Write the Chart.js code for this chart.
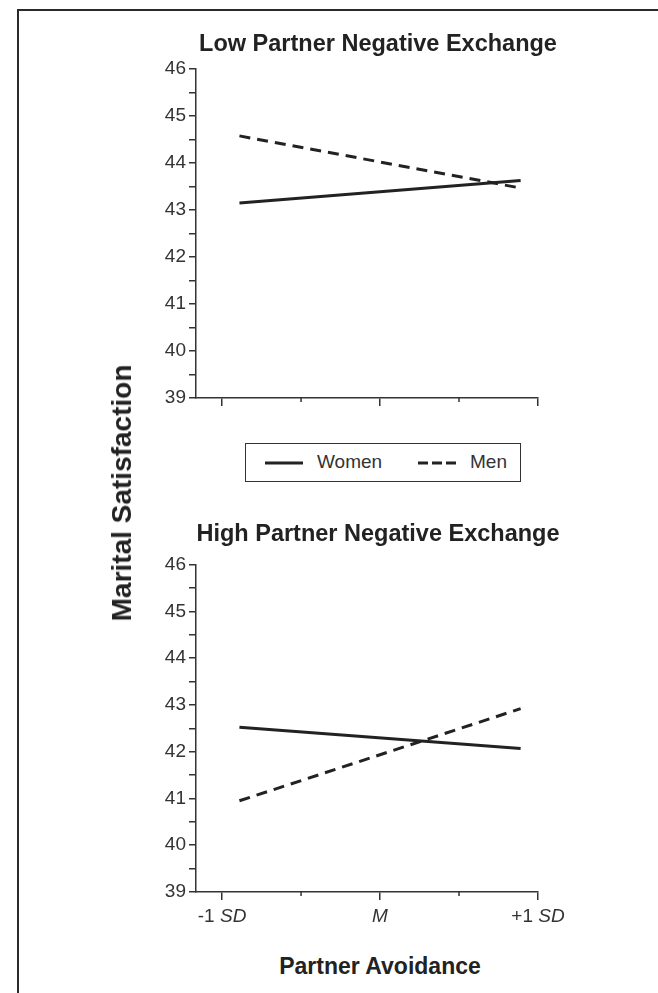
<!DOCTYPE html>
<html>
<head>
<meta charset="utf-8">
<script src="https://cdn.jsdelivr.net/npm/chart.js@4/dist/chart.umd.min.js"></script>
<style>
  body { margin: 0; background: #fff; font-family: 'Liberation Sans', Arial, sans-serif; color: #222; }
  #page { position: relative; width: 658px; height: 993px; overflow: hidden; }
  #frame { position: absolute; left: 17px; top: 9px; width: 700px; height: 1000px;
           border-left: 2px solid #2a2a2a; border-top: 2px solid #2a2a2a; }
  canvas { position: absolute; left: 0; }
  #top { top: 0; }
  #bottom { top: 490px; }
  #legend { position: absolute; left: 245px; top: 443px; width: 276px; height: 39px;
            box-sizing: border-box; border: 1.5px solid #333; background: #fff; }
  #legend svg { position: absolute; top: 16px; }
  #legend span { position: absolute; top: 7px; font-size: 19px; color: #333; }
  #ytitle { position: absolute; left: 122px; top: 493px; transform: translate(-50%, -50%) rotate(-90deg);
            font-size: 28px; font-weight: bold; white-space: nowrap; color: #222; }
  #xtitle { position: absolute; left: 380px; top: 966px; transform: translate(-50%, -50%);
            font-size: 23px; font-weight: bold; white-space: nowrap; color: #222; }
</style>
</head>
<body>
<div id="page">
  <div id="frame"></div>
  <canvas id="top" width="658" height="420"></canvas>
  <canvas id="bottom" width="658" height="440"></canvas>
  <div id="legend">
    <svg style="left:19px" width="38" height="6"><line x1="0" y1="3" x2="38" y2="3" stroke="#222" stroke-width="3"/></svg>
    <span style="left:71px">Women</span>
    <svg style="left:172px" width="38" height="6"><line x1="0" y1="3" x2="38" y2="3" stroke="#222" stroke-width="3" stroke-dasharray="10 4"/></svg>
    <span style="left:224px">Men</span>
  </div>
  <div id="ytitle">Marital Satisfaction</div>
  <div id="xtitle">Partner Avoidance</div>
</div>
<script>
const fontFamily = "'Liberation Sans', Arial, sans-serif";

// x positions where the simple slopes start and end
const xPoints = [-0.89, 0.89];

// low partner negative exchange
const lowWomen = [43.15, 43.63];
const lowMen = [44.58, 43.47];

// high partner negative exchange
const highWomen = [42.52, 42.07];
const highMen = [40.95, 42.92];

const xMajorTicks = [-1, 0, 1];
const xMinorTicks = [-0.5, 0.5];
const xTickLabels = ['-1 SD', 'M', '+1 SD'];
const italicWords = ['SD', 'M'];

const yMin = 39;
const yMax = 46;

function points(values) {
    return xPoints.map((x, i) => ({x: x, y: values[i]}));
}

// small ticks at the half steps of the x axis
const minorTicks = {
    id: 'minorTicks',
    afterDraw(chart) {
        const ctx = chart.ctx;
        const x = chart.scales.x;
        ctx.save();
        ctx.strokeStyle = '#333';
        ctx.lineWidth = 1.5;
        xMinorTicks.forEach(v => {
            const px = x.getPixelForValue(v);
            ctx.beginPath();
            ctx.moveTo(px, x.top);
            ctx.lineTo(px, x.top + 4);
            ctx.stroke();
        });
        ctx.restore();
    }
};

// tick labels with italic SD / M
const mixedLabels = {
    id: 'mixedLabels',
    afterDraw(chart) {
        if (!chart.options.plugins.mixedLabels.show) return;
        const ctx = chart.ctx;
        const x = chart.scales.x;
        const y = chart.chartArea.bottom + 25;
        ctx.save();
        ctx.fillStyle = '#333';
        ctx.textBaseline = 'middle';
        ctx.textAlign = 'left';
        xTickLabels.forEach((label, i) => {
            const parts = label.split(' ').map((w, j, arr) => ({
                text: w + (j < arr.length - 1 ? ' ' : ''),
                italic: italicWords.includes(w)
            }));
            let total = 0;
            parts.forEach(p => {
                ctx.font = (p.italic ? 'italic ' : '') + '19px ' + fontFamily;
                p.w = ctx.measureText(p.text).width;
                total += p.w;
            });
            let px = x.getPixelForValue(xMajorTicks[i]) - total / 2;
            parts.forEach(p => {
                ctx.font = (p.italic ? 'italic ' : '') + '19px ' + fontFamily;
                ctx.fillText(p.text, px, y);
                px += p.w;
            });
        });
        ctx.restore();
    }
};

function makeChart(id, title, women, men, titleBottom, xAxisHeight, showLabels) {
    return new Chart(document.getElementById(id), {
        type: 'line',
        data: {
            datasets: [
                {
                    label: 'Women',
                    data: points(women),
                    borderColor: '#222',
                    borderWidth: 3,
                    pointRadius: 0
                },
                {
                    label: 'Men',
                    data: points(men),
                    borderColor: '#222',
                    borderWidth: 3,
                    borderDash: [11, 7],
                    pointRadius: 0
                }
            ]
        },
        options: {
            responsive: false,
            animation: false,
            layout: { padding: { left: 98, right: 0, top: 0, bottom: 0 } },
            plugins: {
                legend: { display: false },
                tooltip: { enabled: false },
                title: {
                    display: true,
                    text: title,
                    color: '#222',
                    font: { family: fontFamily, size: 23.5, weight: 'bold' },
                    padding: { top: 30, bottom: titleBottom }
                },
                mixedLabels: { show: showLabels }
            },
            scales: {
                x: {
                    type: 'linear',
                    min: -1.165,
                    max: 1,
                    afterBuildTicks: s => { s.ticks = xMajorTicks.map(v => ({value: v})); },
                    afterFit: s => { s.height = xAxisHeight; },
                    ticks: { display: false },
                    grid: { drawOnChartArea: false, tickLength: 8, color: '#333', lineWidth: 1.5 },
                    border: { color: '#333', width: 1.5 }
                },
                y: {
                    min: yMin,
                    max: yMax,
                    afterFit: s => { s.width = 98; },
                    ticks: {
                        stepSize: 0.5,
                        autoSkip: false,
                        padding: 3,
                        color: '#333',
                        font: { family: fontFamily, size: 19 },
                        callback: v => Number.isInteger(v) ? v : ''
                    },
                    grid: { drawOnChartArea: false, tickLength: 7, color: '#333', lineWidth: 1.5 },
                    border: { color: '#333', width: 1.5 }
                },
                // empty box on the right so the title centres over the plot
                space: {
                    type: 'linear',
                    position: 'right',
                    afterFit: s => { s.width = 120; },
                    ticks: { display: false },
                    grid: { display: false },
                    border: { display: false }
                }
            }
        },
        plugins: [minorTicks, mixedLabels]
    });
}

makeChart('top', 'Low Partner Negative Exchange', lowWomen, lowMen, 11, 22, false);
makeChart('bottom', 'High Partner Negative Exchange', highWomen, highMen, 16.4, 38, true);
</script>
</body>
</html>
